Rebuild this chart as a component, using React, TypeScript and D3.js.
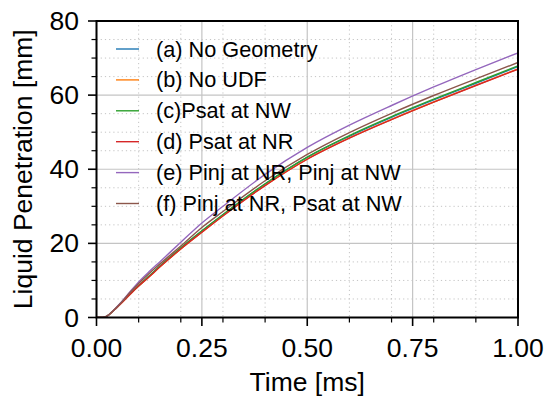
import React from "react";
import * as d3 from "d3";

const timeMs = [0, 0.015, 0.025, 0.04, 0.06, 0.08, 0.1, 0.125, 0.15, 0.2, 0.25, 0.3, 0.4, 0.5, 0.6, 0.7, 0.8, 0.9, 1.0];

const seriesNames = [
  "(a) No Geometry",
  "(b) No UDF",
  "(c)Psat at NW",
  "(d) Psat at NR",
  "(e) Pinj at NR, Pinj at NW",
  "(f) Pinj at NR, Psat at NW",
];

const seriesA = [0, 0, 0.4, 1.8, 4.1, 6.4, 8.6, 11.2, 13.8, 18.7, 23.3, 27.7, 36.0, 43.2, 48.9, 54.0, 58.7, 63.2, 67.7];
const seriesB = [0, 0, 0.4, 1.8, 4.0, 6.3, 8.5, 11.0, 13.6, 18.5, 23.0, 27.45, 35.65, 42.75, 48.45, 53.45, 58.15, 62.65, 67.05];
const seriesC = [0, 0, 0.4, 1.8, 4.1, 6.4, 8.6, 11.2, 13.8, 18.8, 23.4, 27.8, 36.1, 43.3, 49.1, 54.2, 58.9, 63.4, 67.9];
const seriesD = [0, 0, 0.4, 1.8, 4.0, 6.3, 8.5, 11.0, 13.6, 18.5, 23.0, 27.4, 35.6, 42.7, 48.4, 53.4, 58.1, 62.6, 67.0];
const seriesE = [0, 0, 0.4, 1.9, 4.3, 7.0, 9.6, 12.4, 15.0, 20.3, 25.5, 30.0, 38.6, 45.9, 51.9, 57.2, 62.2, 66.9, 71.4];
const seriesF = [0, 0, 0.4, 1.9, 4.2, 6.8, 9.2, 11.9, 14.4, 19.3, 24.3, 28.6, 36.9, 44.0, 49.9, 55.1, 59.9, 64.4, 68.8];

const allSeries = [seriesA, seriesB, seriesC, seriesD, seriesE, seriesF];
const colors = ["#1f77b4", "#ff7f0e", "#2ca02c", "#d62728", "#9467bd", "#8c564b"];

const xMajor = [0, 0.25, 0.5, 0.75, 1.0];
const xMinor = [0.1, 0.2, 0.3, 0.4, 0.6, 0.7, 0.8, 0.9];
const yMajor = [0, 20, 40, 60, 80];
const yMinor = [5, 10, 15, 25, 30, 35, 45, 50, 55, 65, 70, 75];

const W = 546;
const H = 397;
const left = 96.5;
const right = 518;
const top = 21;
const bottom = 317.5;
const font = "'Liberation Sans', Arial, sans-serif";

export default function App() {
  const x = d3.scaleLinear().domain([0, 1]).range([left, right]);
  const y = d3.scaleLinear().domain([0, 80]).range([bottom, top]);
  const line = d3
    .line<number>()
    .x((_, i) => x(timeMs[i]))
    .y((d) => y(d))
    .curve(d3.curveMonotoneX);

  return (
    <svg width={W} height={H} style={{ position: "absolute", left: 0, top: 0, background: "#fff" }}>
      <defs>
        <clipPath id="plot">
          <rect x={left} y={top} width={right - left} height={bottom - top} />
        </clipPath>
      </defs>
      {/* minor grid */}
      {xMinor.map((t) => (
        <line key={"gx" + t} x1={x(t)} x2={x(t)} y1={top} y2={bottom} stroke="#c4c4c4" strokeWidth={1} strokeDasharray="1.2,3" />
      ))}
      {yMinor.map((v) => (
        <line key={"gy" + v} x1={left} x2={right} y1={y(v)} y2={y(v)} stroke="#c4c4c4" strokeWidth={1} strokeDasharray="1.2,3" />
      ))}
      {/* major grid */}
      {xMajor.map((t) => (
        <line key={"Gx" + t} x1={x(t)} x2={x(t)} y1={top} y2={bottom} stroke="#c4c4c4" strokeWidth={1.2} />
      ))}
      {yMajor.map((v) => (
        <line key={"Gy" + v} x1={left} x2={right} y1={y(v)} y2={y(v)} stroke="#c4c4c4" strokeWidth={1.2} />
      ))}
      {/* curves */}
      <g clipPath="url(#plot)">
        {allSeries.map((s, i) => (
          <path key={i} d={line(s) || ""} fill="none" stroke={colors[i]} strokeWidth={1.4} />
        ))}
      </g>
      {/* legend */}
      {seriesNames.map((name, i) => {
        const cy = 49 + i * 30.9;
        return (
          <g key={name}>
            <line x1={116} x2={139} y1={cy} y2={cy} stroke={colors[i]} strokeWidth={1.4} />
            <text x={156} y={cy} dominantBaseline="central" fontFamily={font} fontSize={21.7} fill="#000">
              {name}
            </text>
          </g>
        );
      })}
      {/* frame */}
      <rect x={left} y={top} width={right - left} height={bottom - top} fill="none" stroke="#000" strokeWidth={2} />
      {/* x ticks */}
      {xMajor.map((t) => (
        <g key={"xt" + t}>
          <line x1={x(t)} x2={x(t)} y1={bottom} y2={bottom + 8.5} stroke="#000" strokeWidth={1.6} />
          <text x={x(t)} y={357} textAnchor="middle" fontFamily={font} fontSize={26.5} fill="#000">
            {t.toFixed(2)}
          </text>
        </g>
      ))}
      {xMinor.map((t) => (
        <line key={"xm" + t} x1={x(t)} x2={x(t)} y1={bottom} y2={bottom + 5} stroke="#000" strokeWidth={1.2} />
      ))}
      {/* y ticks */}
      {yMajor.map((v) => (
        <g key={"yt" + v}>
          <line x1={left - 8.5} x2={left} y1={y(v)} y2={y(v)} stroke="#000" strokeWidth={1.6} />
          <text x={79} y={y(v)} textAnchor="end" dominantBaseline="central" fontFamily={font} fontSize={26.5} fill="#000">
            {v}
          </text>
        </g>
      ))}
      {yMinor.map((v) => (
        <line key={"ym" + v} x1={left - 5} x2={left} y1={y(v)} y2={y(v)} stroke="#000" strokeWidth={1.2} />
      ))}
      {/* axis labels */}
      <text x={(left + right) / 2} y={391} textAnchor="middle" fontFamily={font} fontSize={26.5} fill="#000">
        Time [ms]
      </text>
      <text
        transform={`translate(32, ${(top + bottom) / 2}) rotate(-90)`}
        textAnchor="middle"
        fontFamily={font}
        fontSize={26.5}
        fill="#000"
      >
        Liquid Penetration [mm]
      </text>
    </svg>
  );
}
